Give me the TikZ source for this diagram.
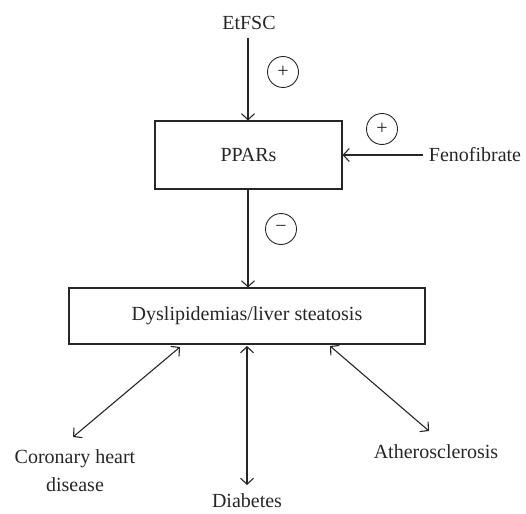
\documentclass[tikz,border=0pt]{standalone}
\usepackage{fontspec}
\setmainfont{Liberation Serif}
\usetikzlibrary{arrows.meta}
\begin{document}
\begin{tikzpicture}[x=1pt,y=-1pt,
  every node/.style={font=\fontsize{20}{28}\selectfont, text=black!85},
  boxnode/.style={draw=black!85, line width=1.1pt, inner sep=0pt},
  signnode/.style={draw=black!85, circle, line width=0.9pt, minimum size=31pt, inner sep=0pt},
  conn/.style={draw=black!85, line width=1.1pt, arrows={-Straight Barb[length=6pt,width=13pt,line width=1.1pt]}},
  dconn/.style={draw=black!85, line width=1.1pt, arrows={Straight Barb[length=6pt,width=13pt,line width=1.1pt]-Straight Barb[length=6pt,width=13pt,line width=1.1pt]}}]
\useasboundingbox (0,0) rectangle (526,513);
\node (etfsc) at (249,23) {EtFSC};
\node[boxnode, minimum width=187pt, minimum height=68pt] (ppars) at (248.5,155) {PPARs};
\node (feno) at (475,155) {Fenofibrate};
\node[boxnode, minimum width=356pt, minimum height=56pt] (dys) at (247,316) {Dyslipidemias/liver steatosis};
\node[align=center] (chd) at (75,471) {Coronary heart\\disease};
\node[inner sep=1pt] (diab) at (247,501) {Diabetes};
\node (ath) at (436,452) {Atherosclerosis};
\node[signnode] (p1) at (283,72) {\fontsize{20}{20}\selectfont +};
\node[signnode] (p2) at (382,129) {\fontsize{20}{20}\selectfont +};
\node[signnode] (m1) at (281,229) {\fontsize{20}{20}\selectfont \textminus};
\coordinate (etf) at (248,38);
\coordinate (fen) at (423,155);
\coordinate (a1) at (180,347);
\coordinate (a2) at (73,437);
\coordinate (b1) at (247,346);
\coordinate (b2) at (247,485);
\coordinate (c1) at (330,346);
\coordinate (c2) at (429,431);
\draw[conn] (etf) -- (etf |- ppars.north);
\draw[conn] (fen) -- (ppars.east |- fen);
\draw[conn] (ppars.south -| etf) -- (dys.north -| etf);
\draw[dconn] (a1) -- (a2);
\draw[dconn] (b1) -- (b2);
\draw[dconn] (c1) -- (c2);
\end{tikzpicture}
\end{document}
